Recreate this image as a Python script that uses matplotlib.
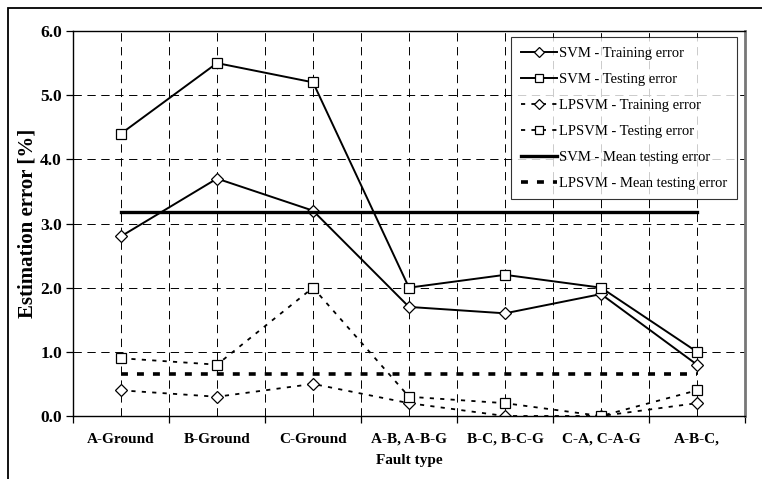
import matplotlib
matplotlib.use('Agg')
import matplotlib.pyplot as plt
from matplotlib.patches import Rectangle
import numpy as np

plt.rcParams['font.family'] = 'Liberation Serif'
plt.rcParams['lines.scale_dashes'] = False

faults = ['A-Ground', 'B-Ground', 'C-Ground', 'A-B, A-B-G', 'B-C, B-C-G', 'C-A, C-A-G', 'A-B-C,']
svm_train = [2.8, 3.7, 3.2, 1.7, 1.6, 1.9, 0.8]
svm_test = [4.4, 5.5, 5.2, 2.0, 2.2, 2.0, 1.0]
lpsvm_train = [0.4, 0.3, 0.5, 0.2, 0.0, 0.0, 0.2]
lpsvm_test = [0.9, 0.8, 2.0, 0.3, 0.2, 0.0, 0.4]

x = np.arange(len(faults))
svm_mean = np.mean(svm_test)
lpsvm_mean = np.mean(lpsvm_test)

fig = plt.figure(figsize=(7.62, 4.79), dpi=100)
ax = fig.add_axes([73/762, 1-416/479, 672/762, 385/479])

mk = dict(markerfacecolor='white', markeredgecolor='black', markeredgewidth=0.9)
ax.plot(x, svm_train, '-', color='black', lw=1.4, marker='D', ms=6, label='SVM - Training error', **mk)
ax.plot(x, svm_test, '-', color='black', lw=1.4, marker='s', ms=6.5, label='SVM - Testing error', **mk)
ax.plot(x, lpsvm_train, color='black', lw=1.3, ls=(0, (3, 4.5)), marker='D', ms=6, label='LPSVM - Training error', **mk)
ax.plot(x, lpsvm_test, color='black', lw=1.3, ls=(0, (3, 4.5)), marker='s', ms=6.5, label='LPSVM - Testing error', **mk)
ax.plot([x[0], x[-1]], [svm_mean, svm_mean], '-', color='black', lw=2.4, label='SVM - Mean testing error')
ax.plot([x[0], x[-1]], [lpsvm_mean, lpsvm_mean], color='black', lw=2.6, ls=(0, (5, 6.5)), label='LPSVM - Mean testing error')

ax.set_xlim(-0.5, len(faults) - 0.5)
ax.set_ylim(0, 6)
ax.set_xticks(x)
ax.set_xticklabels(faults, fontweight='bold', fontsize=11)
ax.set_xticks(np.arange(len(faults) + 1) - 0.5, minor=True)
ax.tick_params(axis='x', which='major', length=0, pad=12)
ax.tick_params(axis='x', which='minor', length=5, direction='out', width=0.9)
ax.set_yticks(np.arange(0, 6.1, 1.0))
ax.set_yticklabels(['{:.1f}'.format(v) for v in np.arange(0, 6.1, 1.0)], fontweight='bold', fontsize=12.5)
ax.tick_params(axis='y', length=5, direction='out', width=0.9, pad=3)

grid = dict(color='black', lw=0.7, ls=(0, (6, 4)))
ax.grid(True, axis='y', which='major', **grid)
ax.grid(True, axis='x', which='both', **grid)
ax.set_axisbelow(True)

for s in ['left', 'bottom', 'top']:
    ax.spines[s].set_linewidth(1.0)
ax.spines['right'].set_color('#777777')
ax.spines['right'].set_linewidth(2.0)

ax.set_xlabel('Fault type', fontweight='bold', fontsize=11, labelpad=6)
ax.set_ylabel('Estimation error [%]', fontweight='bold', fontsize=15, labelpad=2)

leg = ax.legend(loc='upper right', bbox_to_anchor=(737/762, 1-37/479), bbox_transform=fig.transFigure,
                numpoints=1, fontsize=10.5, frameon=True, fancybox=False, handlelength=2.5,
                labelspacing=0.88, borderpad=0.65, handletextpad=0.15, borderaxespad=0,
                markerscale=0.85)
leg.get_frame().set_edgecolor('black')
leg.get_frame().set_linewidth(0.8)

fig.patches.append(Rectangle((8/762, -0.2), 1.2, 1.2 - 8/479, transform=fig.transFigure,
                             fill=False, edgecolor='black', lw=1.3))

fig.savefig('out.png', dpi=100)
